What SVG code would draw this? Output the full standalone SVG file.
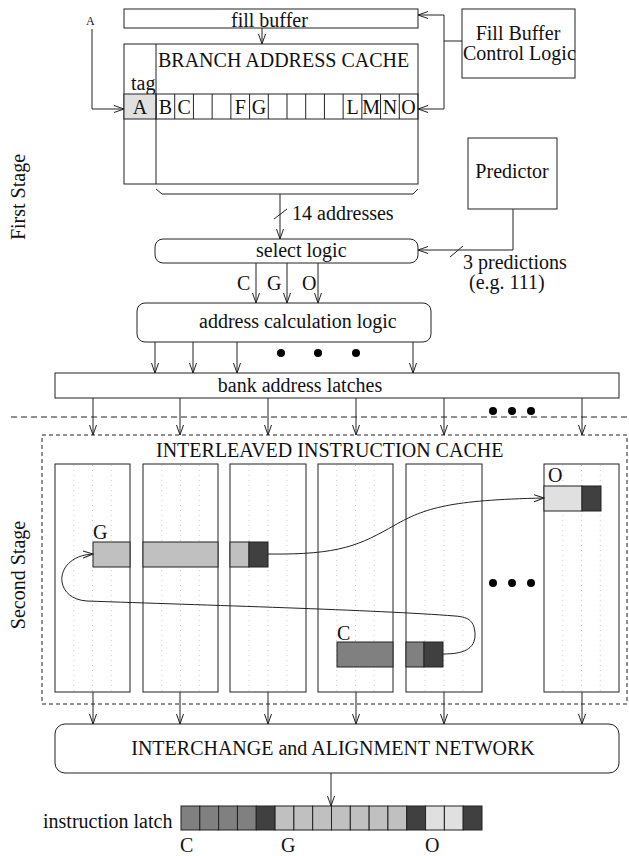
<svg xmlns="http://www.w3.org/2000/svg" width="629" height="856" viewBox="0 0 629 856">
<style>
text{font-family:"Liberation Serif","Times New Roman",serif;font-size:20px;fill:#111}
.b{fill:#fff;stroke:#222;stroke-width:1}
.n{fill:none;stroke:#222;stroke-width:1}
.a{fill:none;stroke:#222;stroke-width:1;marker-end:url(#ah)}
.c{stroke:#222;stroke-width:1}
.dot{fill:#000}
.dt{stroke:#ccc;stroke-width:1;stroke-dasharray:1,4}
.m{text-anchor:middle}
</style>
<defs>
<marker id="ah" markerWidth="11" markerHeight="9" refX="10" refY="4" orient="auto" markerUnits="userSpaceOnUse">
<path d="M0,0.5 L10,4 L0,7.5" fill="none" stroke="#222" stroke-width="1"/>
</marker>
</defs>
<rect width="629" height="856" fill="#fff"/>

<g id="stage-labels">
<text class="m" transform="translate(25,197) rotate(-90)">First Stage</text>
<text class="m" transform="translate(25,575) rotate(-90)">Second Stage</text>
</g>

<g id="fill-buffer">
<rect class="b" x="124" y="9" width="294" height="19"/>
<text x="231" y="27">fill buffer</text>
</g>

<g id="fill-buffer-control">
<rect class="b" x="462" y="9" width="113" height="69"/>
<text class="m" x="518" y="40">Fill Buffer</text>
<text x="463" y="60">Control Logic</text>
</g>

<g id="branch-address-cache">
<rect class="b" x="124" y="44" width="294" height="140"/>
<line class="n" x1="156" y1="44" x2="156" y2="184"/>
<text x="158" y="67">BRANCH ADDRESS CACHE</text>
<text x="131" y="90">tag</text>
<rect x="124" y="94" width="32" height="25" fill="#e0e0e0" stroke="#222"/>
<text class="m" x="140" y="114">A</text>
<g fill="none" stroke="#222">
<rect x="156" y="94" width="262" height="25"/>
<line x1="174.71" y1="94" x2="174.71" y2="119"/>
<line x1="193.43" y1="94" x2="193.43" y2="119"/>
<line x1="212.14" y1="94" x2="212.14" y2="119"/>
<line x1="230.86" y1="94" x2="230.86" y2="119"/>
<line x1="249.57" y1="94" x2="249.57" y2="119"/>
<line x1="268.29" y1="94" x2="268.29" y2="119"/>
<line x1="287" y1="94" x2="287" y2="119"/>
<line x1="305.71" y1="94" x2="305.71" y2="119"/>
<line x1="324.43" y1="94" x2="324.43" y2="119"/>
<line x1="343.14" y1="94" x2="343.14" y2="119"/>
<line x1="361.86" y1="94" x2="361.86" y2="119"/>
<line x1="380.57" y1="94" x2="380.57" y2="119"/>
<line x1="399.29" y1="94" x2="399.29" y2="119"/>
</g>
<text class="m" x="165.4" y="114">B</text>
<text class="m" x="184.1" y="114">C</text>
<text class="m" x="240.2" y="114">F</text>
<text class="m" x="258.9" y="114">G</text>
<text class="m" x="352.5" y="114">L</text>
<text class="m" x="371.2" y="114">M</text>
<text class="m" x="389.9" y="114">N</text>
<text class="m" x="408.6" y="114">O</text>
<path class="n" d="M156,189 L162,194 L413,194 L418,189"/>
</g>

<g id="predictor">
<rect class="b" x="468" y="138" width="89" height="71"/>
<text class="m" x="512" y="178">Predictor</text>
</g>

<g id="select-logic">
<rect class="b" x="155" y="239" width="263" height="24" rx="8"/>
<text x="256" y="257">select logic</text>
</g>

<g id="address-calculation-logic">
<rect class="b" x="137" y="303" width="294" height="39" rx="8"/>
<text x="199" y="328">address calculation logic</text>
</g>

<g id="bank-address-latches">
<rect class="b" x="55" y="373" width="564" height="25"/>
<text class="m" x="300" y="392">bank address latches</text>
</g>

<g id="interleaved-instruction-cache">
<rect x="42" y="435" width="585" height="269" fill="none" stroke="#222" stroke-dasharray="4,3"/>
<text x="156" y="457">INTERLEAVED INSTRUCTION CACHE</text>
<g id="bank1">
<rect class="b" x="55" y="464" width="75" height="228"/>
<line class="dt" x1="73.75" y1="465" x2="73.75" y2="691"/>
<line class="dt" x1="92.5" y1="465" x2="92.5" y2="691"/>
<line class="dt" x1="111.25" y1="465" x2="111.25" y2="691"/>
</g>
<g id="bank2">
<rect class="b" x="143" y="464" width="75" height="228"/>
<line class="dt" x1="161.75" y1="465" x2="161.75" y2="691"/>
<line class="dt" x1="180.5" y1="465" x2="180.5" y2="691"/>
<line class="dt" x1="199.25" y1="465" x2="199.25" y2="691"/>
</g>
<g id="bank3">
<rect class="b" x="230" y="464" width="76" height="228"/>
<line class="dt" x1="249" y1="465" x2="249" y2="691"/>
<line class="dt" x1="268" y1="465" x2="268" y2="691"/>
<line class="dt" x1="287" y1="465" x2="287" y2="691"/>
</g>
<g id="bank4">
<rect class="b" x="318" y="464" width="75" height="228"/>
<line class="dt" x1="336.75" y1="465" x2="336.75" y2="691"/>
<line class="dt" x1="355.5" y1="465" x2="355.5" y2="691"/>
<line class="dt" x1="374.25" y1="465" x2="374.25" y2="691"/>
</g>
<g id="bank5">
<rect class="b" x="406" y="464" width="76" height="228"/>
<line class="dt" x1="425" y1="465" x2="425" y2="691"/>
<line class="dt" x1="444" y1="465" x2="444" y2="691"/>
<line class="dt" x1="463" y1="465" x2="463" y2="691"/>
</g>
<g id="bank6">
<rect class="b" x="544" y="464" width="75" height="228"/>
<line class="dt" x1="562.75" y1="465" x2="562.75" y2="691"/>
<line class="dt" x1="581.5" y1="465" x2="581.5" y2="691"/>
<line class="dt" x1="600.25" y1="465" x2="600.25" y2="691"/>
</g>
<g id="block-G">
<text x="93" y="539">G</text>
<rect x="93" y="542" width="37" height="25" fill="#c0c0c0" stroke="#222"/>
<rect x="143" y="542" width="75" height="25" fill="#c0c0c0" stroke="#222"/>
<rect x="230" y="542" width="19" height="25" fill="#c0c0c0" stroke="#222"/>
<rect x="249" y="542" width="19" height="25" fill="#404040" stroke="#222"/>
</g>
<g id="block-O">
<text x="548" y="482">O</text>
<rect x="544" y="486" width="38" height="25" fill="#e0e0e0" stroke="#222"/>
<rect x="582" y="486" width="19" height="25" fill="#404040" stroke="#222"/>
</g>
<g id="block-C">
<text x="337" y="640">C</text>
<rect x="337" y="642" width="56" height="25" fill="#808080" stroke="#222"/>
<rect x="406" y="642" width="18" height="25" fill="#808080" stroke="#222"/>
<rect x="424" y="642" width="19" height="25" fill="#404040" stroke="#222"/>
</g>
<circle class="dot" cx="493" cy="583" r="4"/>
<circle class="dot" cx="512" cy="583" r="4"/>
<circle class="dot" cx="531" cy="583" r="4"/>
</g>

<g id="interchange-network">
<rect class="b" x="55" y="724" width="564" height="49" rx="10"/>
<text class="m" x="333" y="755">INTERCHANGE and ALIGNMENT NETWORK</text>
</g>

<g id="instruction-latch">
<text x="43" y="828">instruction latch</text>
<g stroke="#222">
<rect x="181" y="806" width="18.81" height="24" fill="#808080"/>
<rect x="199.81" y="806" width="18.81" height="24" fill="#808080"/>
<rect x="218.63" y="806" width="18.81" height="24" fill="#808080"/>
<rect x="237.44" y="806" width="18.81" height="24" fill="#808080"/>
<rect x="256.25" y="806" width="18.81" height="24" fill="#404040"/>
<rect x="275.06" y="806" width="18.81" height="24" fill="#c0c0c0"/>
<rect x="293.88" y="806" width="18.81" height="24" fill="#c0c0c0"/>
<rect x="312.69" y="806" width="18.81" height="24" fill="#c0c0c0"/>
<rect x="331.5" y="806" width="18.81" height="24" fill="#c0c0c0"/>
<rect x="350.31" y="806" width="18.81" height="24" fill="#c0c0c0"/>
<rect x="369.13" y="806" width="18.81" height="24" fill="#c0c0c0"/>
<rect x="387.94" y="806" width="18.81" height="24" fill="#c0c0c0"/>
<rect x="406.75" y="806" width="18.81" height="24" fill="#404040"/>
<rect x="425.56" y="806" width="18.81" height="24" fill="#e0e0e0"/>
<rect x="444.38" y="806" width="18.81" height="24" fill="#e0e0e0"/>
<rect x="463.19" y="806" width="18.81" height="24" fill="#404040"/>
</g>
<text x="180" y="852">C</text>
<text x="281" y="852">G</text>
<text x="425" y="852">O</text>
</g>

<g id="connectors">
<text x="86" y="25" style="font-size:12px">A</text>
<path class="a" d="M92,29 L92,109 L124,109"/>
<line class="a" x1="262" y1="28" x2="262" y2="44"/>
<line class="n" x1="462" y1="41" x2="444" y2="41"/>
<line class="n" x1="444" y1="15" x2="444" y2="109"/>
<line class="a" x1="444" y1="15" x2="418" y2="15"/>
<line class="a" x1="444" y1="109" x2="418" y2="109"/>
<line class="a" x1="280" y1="194" x2="280" y2="239"/>
<line class="c" x1="274" y1="219" x2="287" y2="209"/>
<text x="292" y="220">14 addresses</text>
<path class="a" d="M513,209 L513,250 L418,250"/>
<line class="c" x1="450" y1="257" x2="463" y2="246"/>
<text x="463" y="269">3 predictions</text>
<text x="469" y="289">(e.g. 111)</text>
<line class="a" x1="256" y1="263" x2="256" y2="303"/>
<line class="a" x1="287" y1="263" x2="287" y2="303"/>
<line class="a" x1="318" y1="263" x2="318" y2="303"/>
<text x="237" y="290">C</text>
<text x="267" y="290">G</text>
<text x="302" y="290">O</text>
<line class="a" x1="155" y1="342" x2="155" y2="373"/>
<line class="a" x1="193" y1="342" x2="193" y2="373"/>
<line class="a" x1="237" y1="342" x2="237" y2="373"/>
<line class="a" x1="413" y1="342" x2="413" y2="373"/>
<circle class="dot" cx="281" cy="353" r="4"/>
<circle class="dot" cx="318" cy="353" r="4"/>
<circle class="dot" cx="356" cy="353" r="4"/>
<line x1="11" y1="417" x2="629" y2="417" stroke="#222" stroke-dasharray="6,4"/>
<line class="a" x1="93" y1="398" x2="93" y2="435"/>
<line class="a" x1="180" y1="398" x2="180" y2="435"/>
<line class="a" x1="268" y1="398" x2="268" y2="435"/>
<line class="a" x1="356" y1="398" x2="356" y2="435"/>
<line class="a" x1="444" y1="398" x2="444" y2="435"/>
<line class="a" x1="582" y1="398" x2="582" y2="435"/>
<circle class="dot" cx="493" cy="411" r="4"/>
<circle class="dot" cx="512" cy="411" r="4"/>
<circle class="dot" cx="531" cy="411" r="4"/>
<path class="a" d="M268,554 C340,555 360,545 395,525 C425,508 450,500 544,498"/>
<path class="a" d="M443,654 C462,654 476,650 475,633 C474,622 470,617 455,616 C380,610 200,605 87,601 C52,599 53,556 93,554"/>
<line class="a" x1="93" y1="692" x2="93" y2="724"/>
<line class="a" x1="180" y1="692" x2="180" y2="724"/>
<line class="a" x1="268" y1="692" x2="268" y2="724"/>
<line class="a" x1="356" y1="692" x2="356" y2="724"/>
<line class="a" x1="444" y1="692" x2="444" y2="724"/>
<line class="a" x1="582" y1="692" x2="582" y2="724"/>
<line class="a" x1="331" y1="773" x2="331" y2="806"/>
</g>
</svg>
